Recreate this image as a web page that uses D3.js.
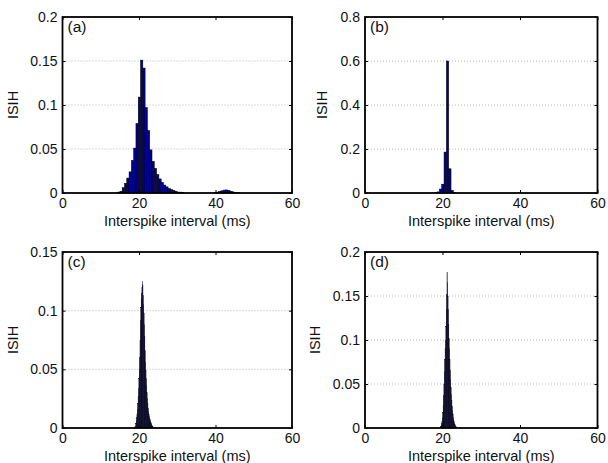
<!DOCTYPE html>
<html>
<head>
<meta charset="utf-8">
<script src="https://cdnjs.cloudflare.com/ajax/libs/d3/7.8.5/d3.min.js"></script>
<style>
  body { margin: 0; background: #fff; }
  svg text { font-family: Arial, "Liberation Sans", sans-serif; fill: #111; }
</style>
</head>
<body>
<div id="chart"></div>
<script>
// shared x axis
const xTicks = [0, 20, 40, 60];
const xLabel = 'Interspike interval (ms)';
const yLabel = 'ISIH';

// (a) - wide bins
const binsA = [14.7, 15.3, 15.9, 16.5, 17.1, 17.7, 18.3, 18.9, 19.5, 20.1, 20.7, 21.3, 21.9, 22.5, 23.1, 23.7,
  24.3, 24.9, 25.5, 26.1, 26.7, 27.3, 27.9, 28.5, 29.1, 29.7, 30.3, 30.9, 31.5,
  39.9, 40.5, 41.1, 41.7, 42.3, 42.9, 43.5, 44.1, 44.7, 45.3, 45.9];
const isihA = [0.001, 0.002, 0.006, 0.011, 0.017, 0.024, 0.037, 0.051, 0.079, 0.109, 0.151, 0.142, 0.097, 0.071, 0.049, 0.036,
  0.028, 0.021, 0.016, 0.012, 0.009, 0.007, 0.005, 0.004, 0.003, 0.002, 0.001, 0.001, 0.0005,
  0.0005, 0.001, 0.0018, 0.0025, 0.0033, 0.0035, 0.003, 0.002, 0.0012, 0.0006, 0.0003];
const yTicksA = [0, 0.05, 0.1, 0.15, 0.2];
const yTickLabelsA = ['0', '0.05', '0.1', '0.15', '0.2'];

// (b)
const binsB = [18.3, 18.9, 19.5, 20.1, 20.7, 21.3, 21.9, 22.5, 23.1];
const isihB = [0.002, 0.005, 0.018, 0.04, 0.186, 0.6, 0.11, 0.012, 0.002];
const yTicksB = [0, 0.2, 0.4, 0.6, 0.8];
const yTickLabelsB = ['0', '0.2', '0.4', '0.6', '0.8'];

// (c) - fine bins
const binsC = [18.9, 19.0, 19.1, 19.2, 19.3, 19.4, 19.5, 19.6, 19.7, 19.8, 19.9, 20.0, 20.1, 20.2, 20.3, 20.4,
  20.5, 20.6, 20.7, 20.8, 20.9, 21.0, 21.1, 21.2, 21.3, 21.4, 21.5, 21.6, 21.7, 21.8, 21.9, 22.0,
  22.1, 22.2, 22.3, 22.4, 22.5, 22.6, 22.7, 22.8, 22.9, 23.0, 23.1, 23.2, 23.3, 23.4, 23.5, 23.6, 23.7];
const isihC = [0.0005, 0.001, 0.002, 0.004, 0.006, 0.009, 0.012, 0.016, 0.021, 0.027, 0.034, 0.042, 0.05, 0.06, 0.075, 0.092,
  0.103, 0.11, 0.115, 0.12, 0.125, 0.122, 0.113, 0.105, 0.098, 0.088, 0.078, 0.066, 0.056, 0.049, 0.042, 0.036,
  0.03, 0.025, 0.021, 0.017, 0.014, 0.012, 0.01, 0.008, 0.007, 0.006, 0.005, 0.004, 0.003, 0.002, 0.0015, 0.001, 0.0005];
const yTicksC = [0, 0.05, 0.1, 0.15];
const yTickLabelsC = ['0', '0.05', '0.1', '0.15'];

// (d)
const binsD = [19.4, 19.5, 19.6, 19.7, 19.8, 19.9, 20.0, 20.1, 20.2, 20.3, 20.4, 20.5, 20.6, 20.7, 20.8, 20.9,
  21.0, 21.1, 21.2, 21.3, 21.4, 21.5, 21.6, 21.7, 21.8, 21.9, 22.0, 22.1, 22.2, 22.3, 22.4, 22.5,
  22.6, 22.7, 22.8, 22.9, 23.0, 23.1, 23.2, 23.3, 23.4, 23.5, 23.6, 23.7];
const isihD = [0.0005, 0.001, 0.002, 0.003, 0.005, 0.008, 0.012, 0.018, 0.026, 0.037, 0.05, 0.064, 0.078, 0.09, 0.1, 0.115,
  0.135, 0.152, 0.177, 0.165, 0.15, 0.135, 0.118, 0.102, 0.09, 0.078, 0.066, 0.055, 0.046, 0.038, 0.031, 0.025,
  0.02, 0.016, 0.012, 0.009, 0.007, 0.005, 0.004, 0.003, 0.002, 0.0015, 0.001, 0.0005];
const yTicksD = [0, 0.05, 0.1, 0.15, 0.2];
const yTickLabelsD = ['0', '0.05', '0.1', '0.15', '0.2'];

const width = 608, height = 463;
const TICK_FONT = 14;
const LABEL_FONT = 14.5;

const svg = d3.select('#chart')
  .append('svg')
  .attr('width', width)
  .attr('height', height);

function drawPanel(p) {
  const g = svg.append('g');
  const xScale = d3.scaleLinear().domain([0, 60]).range([p.x0, p.x1]);
  const yScale = d3.scaleLinear().domain([0, p.yTicks[p.yTicks.length - 1]]).range([p.y1, p.y0]);

  // dotted horizontal grid
  g.selectAll('.grid')
    .data(p.yTicks.slice(1, -1))
    .enter()
    .append('line')
    .attr('x1', p.x0).attr('x2', p.x1)
    .attr('y1', d => yScale(d)).attr('y2', d => yScale(d))
    .attr('stroke', '#b4b4b4')
    .attr('stroke-width', 1)
    .attr('stroke-dasharray', '1,2');

  // histogram bars
  const bw = xScale(p.binWidth) - xScale(0);
  g.selectAll('.bar')
    .data(p.bins)
    .enter()
    .append('rect')
    .attr('x', d => xScale(d - p.binWidth / 2))
    .attr('width', bw)
    .attr('y', (d, i) => yScale(p.values[i]))
    .attr('height', (d, i) => yScale(0) - yScale(p.values[i]))
    .attr('fill', p.fill)
    .attr('stroke', '#000')
    .attr('stroke-width', p.edge);

  // axes with inward ticks, box on
  const bottom = g.append('g')
    .attr('transform', `translate(0,${p.y1})`)
    .call(d3.axisBottom(xScale).tickValues(xTicks).tickSize(-3).tickPadding(5));
  const left = g.append('g')
    .attr('transform', `translate(${p.x0},0)`)
    .call(d3.axisLeft(yScale).tickValues(p.yTicks).tickFormat((d, i) => p.yTickLabels[i]).tickSize(-3).tickPadding(5));
  const top = g.append('g')
    .attr('transform', `translate(0,${p.y0})`)
    .call(d3.axisTop(xScale).tickValues(xTicks).tickSize(-3).tickFormat(''));
  const right = g.append('g')
    .attr('transform', `translate(${p.x1},0)`)
    .call(d3.axisRight(yScale).tickValues(p.yTicks).tickSize(-3).tickFormat(''));

  [bottom, left, top, right].forEach(a => {
    a.select('.domain').remove();
    a.attr('font-size', TICK_FONT).attr('font-family', 'Arial, "Liberation Sans", sans-serif');
    a.selectAll('line').attr('stroke', '#000').attr('stroke-width', 1);
    a.selectAll('text').attr('fill', '#111');
  });

  g.append('rect')
    .attr('x', p.x0).attr('y', p.y0)
    .attr('width', p.x1 - p.x0).attr('height', p.y1 - p.y0)
    .attr('fill', 'none')
    .attr('stroke', '#000')
    .attr('stroke-width', 1.8);

  g.append('text')
    .attr('x', (p.x0 + p.x1) / 2)
    .attr('y', p.y1 + 33)
    .attr('text-anchor', 'middle')
    .attr('font-size', LABEL_FONT)
    .text(xLabel);

  g.append('text')
    .attr('transform', `translate(${p.x0 - p.ylabOff},${(p.y0 + p.y1) / 2}) rotate(-90)`)
    .attr('text-anchor', 'middle')
    .attr('font-size', LABEL_FONT)
    .text(yLabel);

  g.append('text')
    .attr('x', p.x0 + 5)
    .attr('y', p.y0 + 15)
    .attr('font-size', 15.5)
    .text(p.tag);
}

const L = 62.5, R = 292, L2 = 365, R2 = 597.5;
const T = 17, B = 193, T2 = 252, B2 = 428;

drawPanel({ x0: L, x1: R, y0: T, y1: B, bins: binsA, values: isihA, binWidth: 0.6, yTicks: yTicksA,
  yTickLabels: yTickLabelsA, tag: '(a)', fill: '#00008b', edge: 0.5, ylabOff: 45 });
drawPanel({ x0: L2, x1: R2, y0: T, y1: B, bins: binsB, values: isihB, binWidth: 0.6, yTicks: yTicksB,
  yTickLabels: yTickLabelsB, tag: '(b)', fill: '#00008b', edge: 0.5, ylabOff: 38 });
drawPanel({ x0: L, x1: R, y0: T2, y1: B2, bins: binsC, values: isihC, binWidth: 0.1, yTicks: yTicksC,
  yTickLabels: yTickLabelsC, tag: '(c)', fill: '#00005a', edge: 0.3, ylabOff: 45 });
drawPanel({ x0: L2, x1: R2, y0: T2, y1: B2, bins: binsD, values: isihD, binWidth: 0.1, yTicks: yTicksD,
  yTickLabels: yTickLabelsD, tag: '(d)', fill: '#00005a', edge: 0.3, ylabOff: 45 });
</script>
</body>
</html>
